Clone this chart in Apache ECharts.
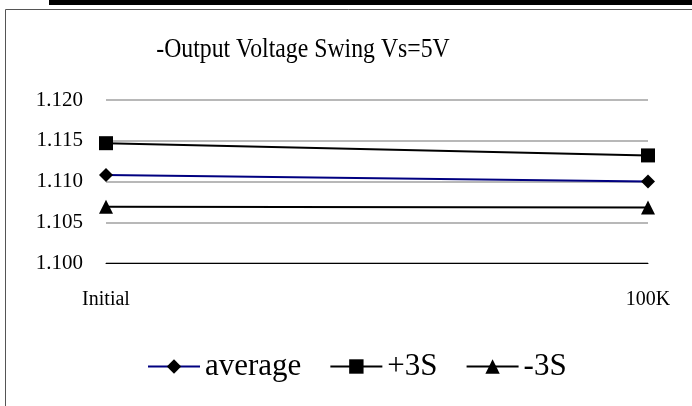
<!DOCTYPE html>
<html>
<head>
<meta charset="utf-8">
<script src="https://cdn.jsdelivr.net/npm/echarts@6/dist/echarts.min.js"></script>
<style>
  html, body { margin: 0; padding: 0; background: #fff; }
  #chart { width: 692px; height: 406px; }
</style>
</head>
<body>
<div id="chart"></div>
<script>
// data
const categories = ["Initial", "100K"];
const average = [1.1108, 1.1100];
const plus3S = [1.1147, 1.1132];
const minus3S = [1.1069, 1.1068];
const yTicks = [1.100, 1.105, 1.110, 1.115, 1.120];
const titleText = "-Output Voltage Swing Vs=5V";

const chart = echarts.init(document.getElementById("chart"));
const font = "'Liberation Serif', 'Times New Roman', serif";

const option = {
  animation: false,
  backgroundColor: "#fff",
  textStyle: { fontFamily: font },
  graphic: [
    // black strip at the top and the chart border
    { type: "rect", shape: { x: 49, y: 0, width: 643, height: 5 }, style: { fill: "#000" } },
    { type: "polyline", shape: { points: [[5.5, 406], [5.5, 9.5], [692, 9.5]] },
      style: { stroke: "#555", lineWidth: 1, fill: null } },
    // title, slightly condensed like the original
    { type: "text", x: 303, y: 50, scaleX: 0.88,
      style: { text: titleText, fontFamily: font, fontSize: 27, fill: "#000",
               align: "center", verticalAlign: "middle" } }
  ],
  grid: { left: 106, right: 44, top: 100, bottom: 143 },
  legend: {
    data: ["average", "+3S", "-3S"],
    left: 142,
    top: 346,
    itemWidth: 52,
    itemHeight: 18,
    itemGap: 28,
    textStyle: { fontFamily: font, fontSize: 31, color: "#000" }
  },
  xAxis: {
    type: "category",
    data: categories,
    boundaryGap: false,
    axisLine: { lineStyle: { color: "#000", width: 1 } },
    axisTick: { show: false },
    axisLabel: { fontFamily: font, fontSize: 20, color: "#000", margin: 27 }
  },
  yAxis: {
    type: "value",
    min: yTicks[0],
    max: yTicks[yTicks.length - 1],
    interval: 0.005,
    axisLine: { show: false },
    axisTick: { show: false },
    splitLine: { lineStyle: { color: "#a0a0a0", width: 1.5 } },
    axisLabel: {
      fontFamily: font, fontSize: 21, color: "#000", margin: 23,
      formatter: v => v.toFixed(3)
    }
  },
  series: [
    {
      name: "average", type: "line", data: average,
      symbol: "diamond", symbolSize: 14,
      itemStyle: { color: "#000" },
      lineStyle: { color: "#000080", width: 2 }
    },
    {
      name: "+3S", type: "line", data: plus3S,
      symbol: "rect", symbolSize: 14,
      itemStyle: { color: "#000" },
      lineStyle: { color: "#000", width: 2 }
    },
    {
      name: "-3S", type: "line", data: minus3S,
      symbol: "triangle", symbolSize: 14,
      itemStyle: { color: "#000" },
      lineStyle: { color: "#000", width: 2 }
    }
  ]
};

chart.setOption(option);
</script>
</body>
</html>
